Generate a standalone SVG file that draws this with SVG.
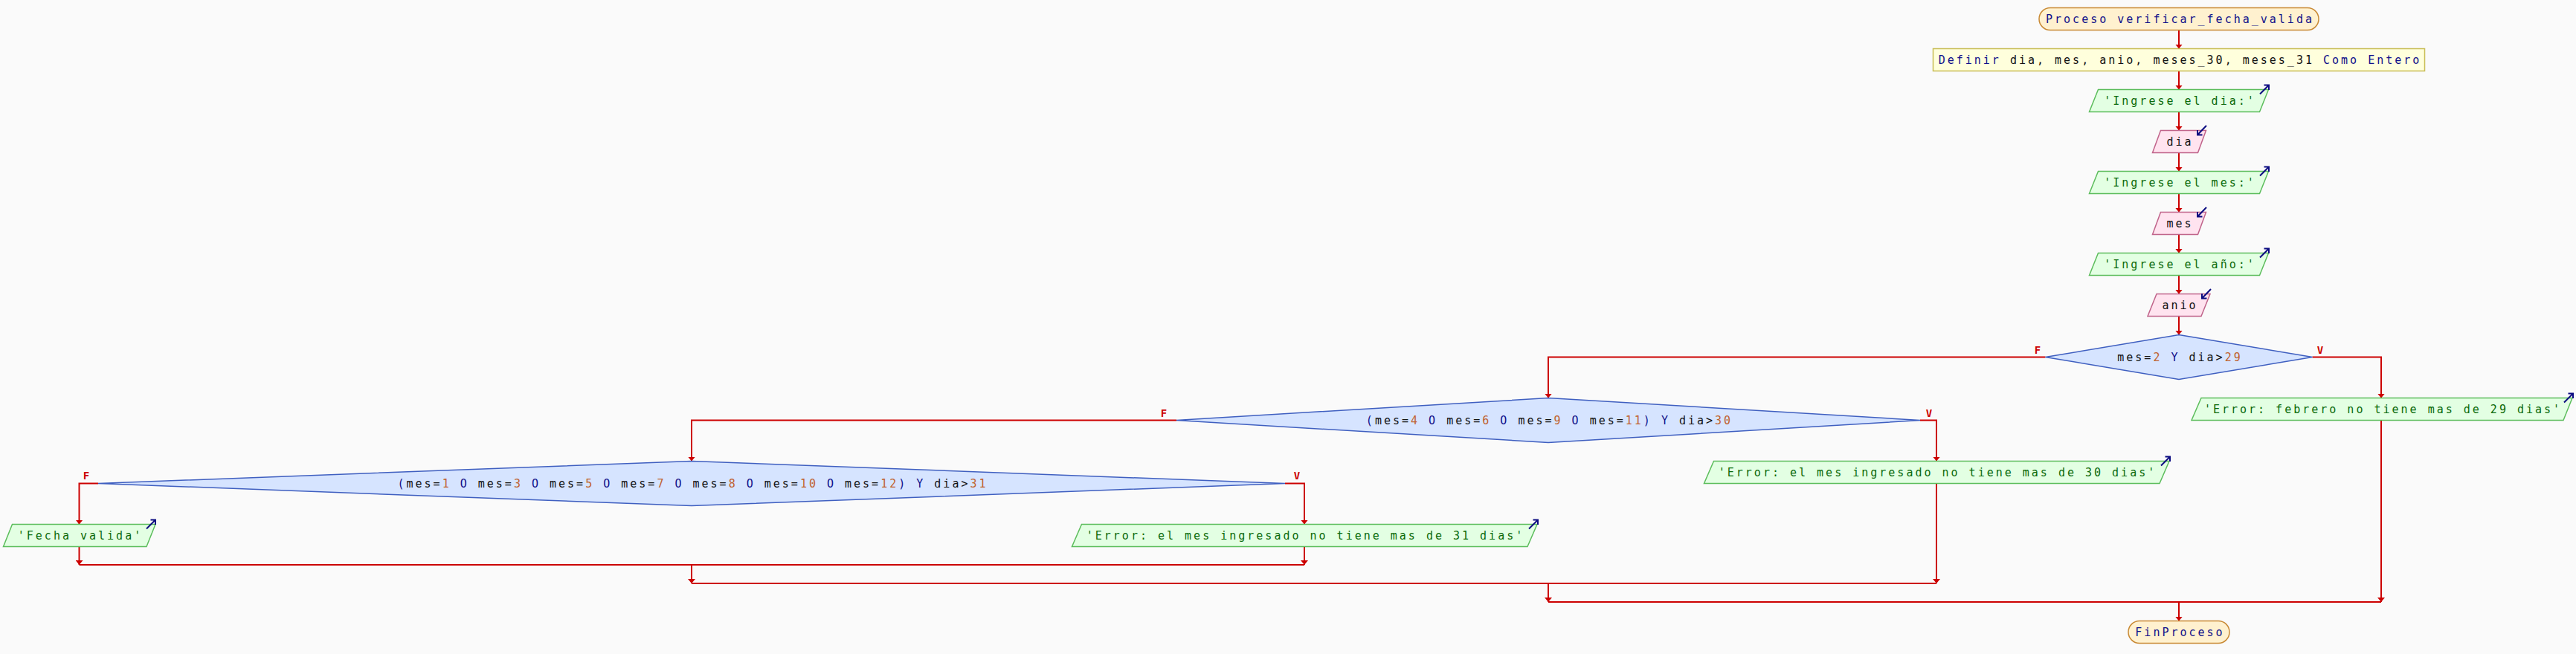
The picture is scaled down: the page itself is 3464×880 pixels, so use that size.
<svg xmlns="http://www.w3.org/2000/svg" width="3464" height="880" viewBox="0 0 3464 880">
<defs>
<marker id="ah" viewBox="0 0 6 10" refX="6" refY="5" markerWidth="6" markerHeight="10" markerUnits="userSpaceOnUse" orient="auto">
<path d="M0,0 L6,5 L0,10 z" fill="#cc0000"/>
</marker>
</defs>
<style>
text{font-family:"DejaVu Sans Mono","Liberation Mono",monospace;font-size:15px;letter-spacing:3px;text-anchor:middle}
.term{fill:#fff1cf;stroke:#c98a35;stroke-width:1.5}
.def{fill:#ffffdc;stroke:#c8bd55;stroke-width:1.5}
.out{fill:#e3ffe3;stroke:#5cbd5c;stroke-width:1.5}
.inp{fill:#ffe3ef;stroke:#c0638a;stroke-width:1.5}
.dec{fill:#d6e4ff;stroke:#3f5fc0;stroke-width:1.5}
.kw{fill:#10108a}
.id{fill:#111111}
.str{fill:#0a6a0a}
.num{fill:#c0622e}
.icon{fill:none;stroke:#0b0b80;stroke-width:2}
.lbl{fill:#cc0000;font-weight:bold;font-size:14px;letter-spacing:0}
.con path{fill:none;stroke:#cc0000;stroke-width:2}
.con .arr{marker-end:url(#ah)}
</style>
<rect x="0" y="0" width="3464" height="880" fill="#fafafa"/>

<g class="con" id="connectors">
<path class="arr" d="M2930,40.5 V65.5"/>
<path class="arr" d="M2930,95.5 V120.5"/>
<path class="arr" d="M2930,150.5 V175.5"/>
<path class="arr" d="M2930,205.5 V230.5"/>
<path class="arr" d="M2930,260.5 V285.5"/>
<path class="arr" d="M2930,315.5 V340.5"/>
<path class="arr" d="M2930,370.5 V395.5"/>
<path class="arr" d="M2930,425.5 V450.5"/>
<path class="arr" d="M2750.5,480.5 H2082 V535.5"/>
<path class="arr" d="M3109.5,480.5 H3202 V535.5"/>
<path class="arr" d="M1582,565.5 H930 V620.5"/>
<path class="arr" d="M2582,565.5 H2604 V620.5"/>
<path class="arr" d="M132,650.5 H106.5 V705.5"/>
<path class="arr" d="M1728,650.5 H1754 V705.5"/>
<path class="arr" d="M106.5,735.5 V760"/>
<path class="arr" d="M1754,735.5 V760"/>
<path d="M106.5,760 H1754"/>
<path class="arr" d="M930,760 V785"/>
<path class="arr" d="M2604,650.5 V785"/>
<path d="M930,785 H2604"/>
<path class="arr" d="M2082,785 V810"/>
<path class="arr" d="M3202,565.5 V810"/>
<path d="M2082,810 H3202"/>
<path class="arr" d="M2930,810 V835.5"/>
</g>

<g id="start">
<rect class="term" x="2742" y="10.5" width="376" height="30" rx="15" ry="15"/>
<text x="2931.5" y="30.5" class="kw">Proceso verificar_fecha_valida</text>
</g>

<g id="definir">
<rect class="def" x="2599.5" y="65.5" width="661" height="30"/>
<text x="2931.5" y="85.5"><tspan class="kw">Definir</tspan><tspan class="id"> dia, mes, anio, meses_30, meses_31 </tspan><tspan class="kw">Como Entero</tspan></text>
</g>

<g id="out_dia">
<polygon class="out" points="2821.5,120.5 3050.5,120.5 3038.5,150.5 2809.5,150.5"/>
<text x="2931.5" y="140.5" class="str">'Ingrese el dia:'</text>
<path class="icon" d="M3039,126.5 L3051,114.5 M3044.5,114.5 H3051 V121"/>
</g>

<g id="in_dia">
<polygon class="inp" points="2905.5,175.5 2966.5,175.5 2955.5,205.5 2894.5,205.5"/>
<text x="2931.5" y="195.5" class="id">dia</text>
<path class="icon" d="M2967,169 L2955,181.5 M2955,175 V181.5 H2961.5"/>
</g>

<g id="out_mes">
<polygon class="out" points="2821.5,230.5 3050.5,230.5 3038.5,260.5 2809.5,260.5"/>
<text x="2931.5" y="250.5" class="str">'Ingrese el mes:'</text>
<path class="icon" d="M3039,236.5 L3051,224.5 M3044.5,224.5 H3051 V231"/>
</g>

<g id="in_mes">
<polygon class="inp" points="2905.5,285.5 2966.5,285.5 2955.5,315.5 2894.5,315.5"/>
<text x="2931.5" y="305.5" class="id">mes</text>
<path class="icon" d="M2967,279 L2955,291.5 M2955,285 V291.5 H2961.5"/>
</g>

<g id="out_anio">
<polygon class="out" points="2821.5,340.5 3050.5,340.5 3038.5,370.5 2809.5,370.5"/>
<text x="2931.5" y="360.5" class="str">'Ingrese el año:'</text>
<path class="icon" d="M3039,346.5 L3051,334.5 M3044.5,334.5 H3051 V341"/>
</g>

<g id="in_anio">
<polygon class="inp" points="2900,395.5 2972,395.5 2960,425.5 2888,425.5"/>
<text x="2931.5" y="415.5" class="id">anio</text>
<path class="icon" d="M2973,389 L2961,401.5 M2961,395 V401.5 H2967.5"/>
</g>

<g id="dec1">
<polygon class="dec" points="2930,450.5 3109.5,480.5 2930,510.5 2750.5,480.5"/>
<text x="2931.5" y="485.5"><tspan class="id">mes=</tspan><tspan class="num">2</tspan><tspan class="kw"> Y </tspan><tspan class="id">dia&gt;</tspan><tspan class="num">29</tspan></text>
<text x="2740" y="476" class="lbl">F</text>
<text x="3120" y="476" class="lbl">V</text>
</g>

<g id="out_feb">
<polygon class="out" points="2960,535.5 3459,535.5 3447,565.5 2947,565.5"/>
<text x="3204.5" y="555.5" class="str">'Error: febrero no tiene mas de 29 dias'</text>
<path class="icon" d="M3448,541.5 L3460,529.5 M3453.5,529.5 H3460 V536"/>
</g>

<g id="dec2">
<polygon class="dec" points="2082,535.5 2582,565.5 2082,595.5 1582,565.5"/>
<text x="2083.5" y="570.5"><tspan class="kw">(</tspan><tspan class="id">mes=</tspan><tspan class="num">4</tspan><tspan class="kw"> O </tspan><tspan class="id">mes=</tspan><tspan class="num">6</tspan><tspan class="kw"> O </tspan><tspan class="id">mes=</tspan><tspan class="num">9</tspan><tspan class="kw"> O </tspan><tspan class="id">mes=</tspan><tspan class="num">11</tspan><tspan class="kw">) Y </tspan><tspan class="id">dia&gt;</tspan><tspan class="num">30</tspan></text>
<text x="1565" y="561" class="lbl">F</text>
<text x="2594" y="561" class="lbl">V</text>
</g>

<g id="out_30">
<polygon class="out" points="2304.5,620.5 2917,620.5 2904,650.5 2291.5,650.5"/>
<text x="2605.5" y="640.5" class="str">'Error: el mes ingresado no tiene mas de 30 dias'</text>
<path class="icon" d="M2906,626.5 L2918,614.5 M2911.5,614.5 H2918 V621"/>
</g>

<g id="dec3">
<polygon class="dec" points="930,620.5 1728,650.5 930,680.5 132,650.5"/>
<text x="931.5" y="655.5"><tspan class="kw">(</tspan><tspan class="id">mes=</tspan><tspan class="num">1</tspan><tspan class="kw"> O </tspan><tspan class="id">mes=</tspan><tspan class="num">3</tspan><tspan class="kw"> O </tspan><tspan class="id">mes=</tspan><tspan class="num">5</tspan><tspan class="kw"> O </tspan><tspan class="id">mes=</tspan><tspan class="num">7</tspan><tspan class="kw"> O </tspan><tspan class="id">mes=</tspan><tspan class="num">8</tspan><tspan class="kw"> O </tspan><tspan class="id">mes=</tspan><tspan class="num">10</tspan><tspan class="kw"> O </tspan><tspan class="id">mes=</tspan><tspan class="num">12</tspan><tspan class="kw">) Y </tspan><tspan class="id">dia&gt;</tspan><tspan class="num">31</tspan></text>
<text x="116" y="645" class="lbl">F</text>
<text x="1744" y="645" class="lbl">V</text>
</g>

<g id="out_valida">
<polygon class="out" points="16.5,705.5 209,705.5 197,735.5 4.5,735.5"/>
<text x="108" y="725.5" class="str">'Fecha valida'</text>
<path class="icon" d="M197,711.5 L209,699.5 M202.5,699.5 H209 V706"/>
</g>

<g id="out_31">
<polygon class="out" points="1454.5,705.5 2067,705.5 2054,735.5 1441.5,735.5"/>
<text x="1755.5" y="725.5" class="str">'Error: el mes ingresado no tiene mas de 31 dias'</text>
<path class="icon" d="M2056,711.5 L2068,699.5 M2061.5,699.5 H2068 V706"/>
</g>

<g id="end">
<rect class="term" x="2862" y="835.5" width="136" height="30" rx="15" ry="15"/>
<text x="2931.5" y="855.5" class="kw">FinProceso</text>
</g>
</svg>
